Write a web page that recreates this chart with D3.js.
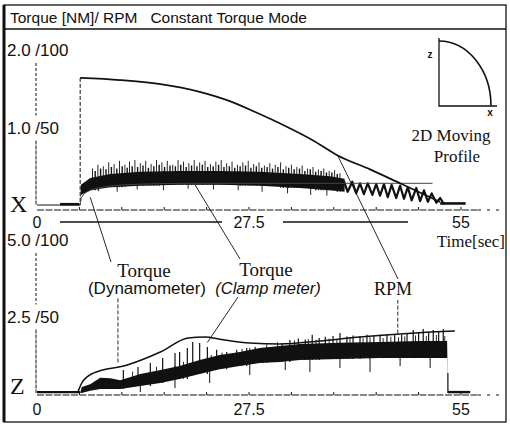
<!DOCTYPE html>
<html>
<head>
<meta charset="utf-8">
<script src="https://cdn.jsdelivr.net/npm/d3@7"></script>
<style>
  body { margin: 0; background: #fff; }
  svg { display: block; }
  .sans { font-family: "Liberation Sans", Arial, sans-serif; fill: #111; }
  .serif { font-family: "Liberation Serif", "Times New Roman", serif; fill: #111; }
</style>
</head>
<body>
<svg id="chart" width="510" height="426"></svg>
<script>
// ---- data ----
const timeLabels = [0, 27.5, 55];
const timeMarks = [5.5, 11, 16.5, 22, 27.5, 33, 38.5, 44, 49.5, 55];

const xTickValues = [2.0, 1.0];
const xTickText = ["2.0 /100", "1.0 /50"];
const zTickValues = [5.0, 2.5];
const zTickText = ["5.0 /100", "2.5 /50"];

// X axis panel: [time s, rpm]
const rpmX = [[5.6,82],[10.8,80.6],[16.0,78],[21.1,73],[25.0,67],[28.3,60],[32.2,51],[35.7,42],[39.0,32],[43.2,23],[47.1,14],[51.2,4.5],[52.3,2]];
// clamp meter torque, dense part: [time, low, high] in Nm
const torqueXBand = [[5.6,0,0],[5.7,0.13,0.26],[6.9,0.19,0.35],[9.5,0.23,0.40],[13.4,0.25,0.43],[18.5,0.26,0.44],[23.7,0.26,0.44],[28.9,0.25,0.43],[34.1,0.22,0.40],[38.0,0.19,0.37],[39.9,0.17,0.34]];
// spikes above the dense part: [time, tip]
const torqueXUp = [[7.2,.47],[7.9,.52],[8.6,.50],[9.3,.55],[10.0,.53],[10.7,.57],[11.4,.52],[12.0,.56],[12.7,.58],[13.4,.54],[14.1,.57],[14.8,.53],[15.5,.58],[16.2,.55],[16.9,.57],[17.6,.52],[18.3,.58],[19.0,.56],[19.7,.54],[20.4,.58],[21.1,.55],[21.8,.57],[22.5,.53],[23.2,.56],[23.9,.58],[24.6,.54],[25.3,.56],[26.0,.52],[26.7,.55],[27.4,.57],[28.1,.53],[28.8,.55],[29.5,.51],[30.2,.54],[30.9,.52],[31.6,.55],[32.3,.50],[33.0,.52],[33.7,.49],[34.4,.51],[35.1,.47],[35.8,.49],[36.5,.46],[37.2,.47],[37.9,.44],[38.6,.45],[39.3,.41]];
const torqueXFringe = [[7.55,.44],[8.25,.47],[8.95,.46],[9.65,.49],[10.35,.47],[11.05,.50],[11.7,.48],[12.35,.50],[13.05,.49],[13.75,.51],[14.45,.48],[15.15,.50],[15.85,.52],[16.55,.49],[17.25,.51],[17.95,.50],[18.65,.52],[19.35,.49],[20.05,.51],[20.75,.50],[21.45,.52],[22.15,.49],[22.85,.50],[23.55,.52],[24.25,.49],[24.95,.50],[25.65,.48],[26.35,.50],[27.05,.51],[27.75,.48],[28.45,.50],[29.15,.48],[29.85,.49],[30.55,.47],[31.25,.49],[31.95,.46],[32.65,.48],[33.35,.46],[34.05,.47],[34.75,.44],[35.45,.46],[36.15,.43],[36.85,.44],[37.55,.42],[38.25,.42],[38.95,.40]];
const torqueXDown = [[8.0,.18],[10.4,.17],[13.0,.20],[16.4,.19],[19.6,.21],[22.9,.20],[26.1,.19],[29.2,.17],[32.5,.15],[35.5,.13],[37.6,.12]];
const torqueXZig = [[39.8,.31],[40.3,.17],[40.9,.30],[41.4,.15],[41.9,.28],[42.4,.14],[42.9,.28],[43.5,.13],[44.0,.27],[44.5,.12],[45.0,.27],[45.5,.10],[46.0,.26],[46.6,.09],[47.1,.25],[47.6,.08],[48.1,.23],[48.6,.06],[49.2,.22],[49.7,.05],[50.2,.19],[50.7,.04],[51.2,.15],[51.8,.03],[52.3,.09],[52.8,.01]];
const dynoX = [[5.6,0],[5.8,0.10],[6.5,0.17],[8.0,0.22],[10,0.25],[14,0.27],[20,0.28],[30,0.28],[40,0.28],[51.3,0.28]];
const restX = [[0,0],[5.6,0]];
const noiseX = [[[3.0,0.01],[5.5,0.01]],[[52.3,0.02],[55.6,0.02]]];

// Z axis panel
const rpmZ = [[5.3,0.6],[5.8,6.5],[7.3,13],[11.7,18.3],[16.0,26.8],[19.6,36],[21.8,36.6],[23.7,35.2],[27.6,32.6],[31.5,32],[36.7,34],[41.9,36.6],[47.1,38.6],[51.0,39.8],[54.2,40.6]];
const torqueZBand = [[5.6,0,0],[5.8,0,0.2],[6.9,.07,.29],[8.2,.13,.50],[9.5,.13,.48],[10.8,.13,.42],[13.4,.23,.62],[16.0,.33,.75],[18.5,.46,.88],[21.1,.62,1.08],[23.7,.78,1.24],[26.3,.88,1.34],[28.9,.98,1.47],[31.5,1.01,1.54],[34.1,1.08,1.60],[39.3,1.11,1.64],[44.5,1.14,1.67],[49.7,1.14,1.70],[53.2,1.14,1.70],[53.3,0,0]];
const torqueZUp = [[8.6,.49],[11.2,.75],[13.1,.85],[14.7,.98],[16.3,1.14],[17.9,1.31],[18.5,1.34],[19.5,1.47],[20.2,1.67],[21.1,1.63],[22.1,1.50],[23.3,1.41],[24.6,1.34],[25.9,1.41],[27.2,1.47],[28.3,1.50],[29.3,1.47],[30.6,1.50],[31.8,1.62],[32.8,1.73],[33.9,1.78],[34.8,1.75],[35.7,1.90],[36.6,1.80],[37.4,1.84],[38.4,1.86],[39.3,1.96],[40.2,1.85],[41.0,1.88],[41.9,1.86],[42.8,1.90],[43.7,1.88],[44.5,1.90],[45.4,1.92],[46.4,1.93],[47.3,1.90],[48.0,1.95],[48.8,2.06],[49.5,1.98],[50.1,2.09],[50.8,2.00],[51.4,2.06],[52.1,2.02],[52.7,2.09]];
const torqueZFringe = [[12.4,.70],[15.5,.86],[19.0,1.02],[22.6,1.24],[24.0,1.32],[26.6,1.44],[29.8,1.58],[31.2,1.66],[33.4,1.72],[35.2,1.76],[36.2,1.74],[37.9,1.78],[38.9,1.76],[40.6,1.80],[42.3,1.79],[43.2,1.82],[44.9,1.80],[45.9,1.84],[46.9,1.82],[47.7,1.85],[49.1,1.88],[50.5,1.86],[51.8,1.90],[52.9,1.86]];
const torqueZDown = [[13.4,.03],[17.9,.16],[22.4,.33],[27.6,.59],[32.2,.75],[35.4,.69],[39.3,.82],[43.2,.69],[47.1,.88],[51.0,.82]];
const endSpikeZ = [[53.3,0],[53.3,.65]];
const restZ = [[0,.03],[5.6,.03]];
const noiseZ = [[53.3,.03],[56.2,.03]];

// ---- scales ----
const xT = d3.scaleLinear().domain([0, 55]).range([37, 461]);
const yX = d3.scaleLinear().domain([0, 2]).range([205, 50]);
const yXrpm = d3.scaleLinear().domain([0, 100]).range([205, 50]);
const yZ = d3.scaleLinear().domain([0, 5]).range([393, 240]);
const yZrpm = d3.scaleLinear().domain([0, 100]).range([393, 240]);

const svg = d3.select("#chart");
const ink = "#111";

// frame
svg.append("rect").attr("x", 4).attr("y", 5).attr("width", 502).attr("height", 417)
  .attr("fill", "none").attr("stroke", ink).attr("stroke-width", 1.3);
svg.append("line").attr("x1", 4).attr("x2", 4).attr("y1", 5).attr("y2", 422)
  .attr("stroke", ink).attr("stroke-width", 3);
svg.append("line").attr("x1", 4).attr("x2", 506).attr("y1", 29).attr("y2", 29)
  .attr("stroke", ink).attr("stroke-width", 1.3);
svg.append("text").attr("class", "sans").attr("x", 10).attr("y", 23)
  .style("font-size", "15.5px").style("white-space", "pre")
  .text("Torque [NM]/ RPM   Constant Torque Mode");

// helpers
const nearest = (band, t) => band.reduce((a, b) => Math.abs(b[0] - t) < Math.abs(a[0] - t) ? b : a);
const vline = (g, x, y1, y2, w, dash) => g.append("line")
  .attr("x1", x).attr("x2", x).attr("y1", y1).attr("y2", y2)
  .attr("stroke", ink).attr("stroke-width", w || 1).attr("stroke-dasharray", dash || null);

function spikes(g, list, band, y, idx, w) {
  g.selectAll(null).data(list).enter().append("line")
    .attr("x1", d => xT(d[0])).attr("x2", d => xT(d[0]))
    .attr("y1", d => y(nearest(band, d[0])[idx])).attr("y2", d => y(d[1]))
    .attr("stroke", ink).attr("stroke-width", w);
}

function panel(cfg) {
  const g = svg.append("g");
  // y tick labels
  g.selectAll(".ylab").data(cfg.tickValues).enter().append("text")
    .attr("class", "sans").attr("x", 7).attr("y", d => cfg.y(d)).attr("dy", "0.36em")
    .style("font-size", "17px").text((d, i) => cfg.tickText[i]);
  // y axis (dashed)
  const y0 = cfg.y(0), yA = cfg.y(cfg.tickValues[0]), yB = cfg.y(cfg.tickValues[1]);
  vline(g, xT(0) - 1, yA + 13, yB - 12, 1, "3,2");
  vline(g, xT(0) - 1, yB + 13, y0, 1, "4,1");
  // axis letter
  g.append("text").attr("class", "serif").attr("x", 10).attr("y", y0 + cfg.letterDy)
    .style("font-size", "24px").text(cfg.letter);
  // time reference line with marks
  const ay = y0 + cfg.axisOffset;
  g.append("line").attr("x1", xT(0)).attr("x2", 478).attr("y1", ay).attr("y2", ay)
    .attr("stroke", ink).attr("stroke-width", 1).attr("stroke-dasharray", "7,1.5");
  g.append("line").attr("x1", 478).attr("x2", 505).attr("y1", ay).attr("y2", ay)
    .attr("stroke", ink).attr("stroke-width", 1).attr("stroke-dasharray", "3,6");
  g.selectAll(".mk").data(timeMarks).enter().append("line")
    .attr("x1", d => xT(d)).attr("x2", d => xT(d)).attr("y1", ay).attr("y2", ay - 3)
    .attr("stroke", ink).attr("stroke-width", 1);
  return g;
}

// ---- X panel ----
const gX = panel({ y: yX, tickValues: xTickValues, tickText: xTickText, letter: "X", axisOffset: 5, letterDy: 7 });

gX.append("path").datum(restX).attr("fill", "none").attr("stroke", ink).attr("stroke-width", 1.2)
  .attr("d", d3.line().x(d => xT(d[0])).y(d => yX(d[1])));
gX.selectAll(".nz").data(noiseX).enter().append("path").attr("fill", "none")
  .attr("stroke", ink).attr("stroke-width", 2.6)
  .attr("d", d3.line().x(d => xT(d[0])).y(d => yX(d[1])));

// start marker (dashed rise of rpm)
vline(gX, xT(rpmX[0][0]), yXrpm(rpmX[0][1]), yX(0), 1, "4,2");

gX.append("path").datum(torqueXBand).attr("fill", ink)
  .attr("d", d3.area().x(d => xT(d[0])).y0(d => yX(d[1])).y1(d => yX(d[2])));
spikes(gX, torqueXUp, torqueXBand, yX, 1, 0.9);
spikes(gX, torqueXFringe, torqueXBand, yX, 1, 1.4);
spikes(gX, torqueXDown, torqueXBand, yX, 2, 0.9);
gX.append("path").datum(torqueXZig).attr("fill", "none").attr("stroke", ink).attr("stroke-width", 2.2)
  .attr("stroke-linejoin", "round")
  .attr("d", d3.line().x(d => xT(d[0])).y(d => yX(d[1])));
gX.append("path").datum(dynoX).attr("fill", "none").attr("stroke", "#444").attr("stroke-width", 1)
  .attr("d", d3.line().curve(d3.curveMonotoneX).x(d => xT(d[0])).y(d => yX(d[1])));
gX.append("path").datum(rpmX).attr("fill", "none").attr("stroke", ink).attr("stroke-width", 1.7)
  .attr("d", d3.line().curve(d3.curveMonotoneX).x(d => xT(d[0])).y(d => yXrpm(d[1])));

// time axis row
const tRow = 222;
svg.selectAll(".tl").data(timeLabels).enter().append("text").attr("class", "sans")
  .attr("x", d => xT(d)).attr("y", tRow).attr("dy", "0.36em").attr("text-anchor", "middle")
  .style("font-size", "16px").text(d => d);
svg.append("line").attr("x1", xT(0) + 23).attr("x2", xT(27.5) - 27).attr("y1", tRow).attr("y2", tRow)
  .attr("stroke", ink).attr("stroke-width", 1.5);
svg.append("line").attr("x1", xT(27.5) + 34).attr("x2", xT(55) - 53).attr("y1", tRow).attr("y2", tRow)
  .attr("stroke", ink).attr("stroke-width", 1.5);
svg.append("text").attr("class", "serif").attr("x", 505).attr("y", 241).attr("dy", "0.36em")
  .attr("text-anchor", "end").style("font-size", "17px").text("Time[sec]");

// inset: 2D moving profile
const inset = svg.append("g");
inset.append("path").attr("fill", "none").attr("stroke", ink).attr("stroke-width", 1.3)
  .attr("d", "M439,38 L439,106 L497,106");
inset.append("path").attr("fill", "none").attr("stroke", ink).attr("stroke-width", 1.6)
  .attr("d", "M439,41 A52,65 0 0 1 491,106");
inset.append("text").attr("class", "sans").attr("x", 430).attr("y", 58).attr("text-anchor", "middle")
  .style("font-size", "10px").style("font-weight", "bold").text("z");
inset.append("text").attr("class", "sans").attr("x", 490).attr("y", 116).attr("text-anchor", "middle")
  .style("font-size", "10px").style("font-weight", "bold").text("x");
inset.append("text").attr("class", "serif").attr("x", 451).attr("y", 141).attr("text-anchor", "middle")
  .style("font-size", "17px").text("2D Moving");
inset.append("text").attr("class", "serif").attr("x", 457).attr("y", 162).attr("text-anchor", "middle")
  .style("font-size", "17px").text("Profile");

// ---- Z panel ----
const gZ = panel({ y: yZ, tickValues: zTickValues, tickText: zTickText, letter: "Z", axisOffset: 2, letterDy: 1 });

gZ.append("path").datum(restZ).attr("fill", "none").attr("stroke", ink).attr("stroke-width", 2.4)
  .attr("d", d3.line().x(d => xT(d[0])).y(d => yZ(d[1])));
gZ.append("path").datum(noiseZ).attr("fill", "none").attr("stroke", ink).attr("stroke-width", 2.4)
  .attr("d", d3.line().x(d => xT(d[0])).y(d => yZ(d[1])));
gZ.append("path").datum(torqueZBand).attr("fill", ink)
  .attr("d", d3.area().x(d => xT(d[0])).y0(d => yZ(d[1])).y1(d => yZ(d[2])));
spikes(gZ, torqueZUp, torqueZBand, yZ, 1, 1.2);
spikes(gZ, torqueZFringe, torqueZBand, yZ, 1, 0.9);
spikes(gZ, torqueZDown, torqueZBand, yZ, 2, 1);
gZ.append("path").datum(endSpikeZ).attr("fill", "none").attr("stroke", ink).attr("stroke-width", 1.2)
  .attr("d", d3.line().x(d => xT(d[0])).y(d => yZ(d[1])));
gZ.append("path").datum(rpmZ).attr("fill", "none").attr("stroke", ink).attr("stroke-width", 1.5)
  .attr("d", d3.line().curve(d3.curveMonotoneX).x(d => xT(d[0])).y(d => yZrpm(d[1])));

svg.selectAll(".tlz").data(timeLabels).enter().append("text").attr("class", "sans")
  .attr("x", d => xT(d)).attr("y", 409).attr("dy", "0.36em").attr("text-anchor", "middle")
  .style("font-size", "16px").text(d => d);

// ---- callouts ----
const notes = svg.append("g");
const lab = (cls, x, y, txt, size, italic) => notes.append("text").attr("class", cls)
  .attr("x", x).attr("y", y).attr("dy", "0.36em").attr("text-anchor", "middle")
  .style("font-size", size).style("font-style", italic ? "italic" : null).text(txt);
lab("serif", 144, 270, "Torque", "19px");
lab("sans", 147, 288, "(Dynamometer)", "17px");
lab("serif", 266, 269, "Torque", "19px");
lab("sans", 268, 288, "(Clamp meter)", "16.5px", true);
lab("serif", 393, 289, "RPM", "18px");

const lead = (x1, y1, x2, y2, dash) => notes.append("line")
  .attr("x1", x1).attr("y1", y1).attr("x2", x2).attr("y2", y2)
  .attr("stroke", ink).attr("stroke-width", 0.9).attr("stroke-dasharray", dash || null);
lead(xT(6.9), yX(0.10), 111, 262);
lead(xT(20.5), yX(0.26), 240, 259);
lead(xT(39.0), yXrpm(32), 398, 279);
lead(xT(10.5), yZrpm(20), xT(10.5), 298, "4,2");
lead(xT(22.1), yZ(1.65), 238, 297);
lead(xT(46.8), yZrpm(38.8), xT(46.8), 300, "4,2");
</script>
</body>
</html>
